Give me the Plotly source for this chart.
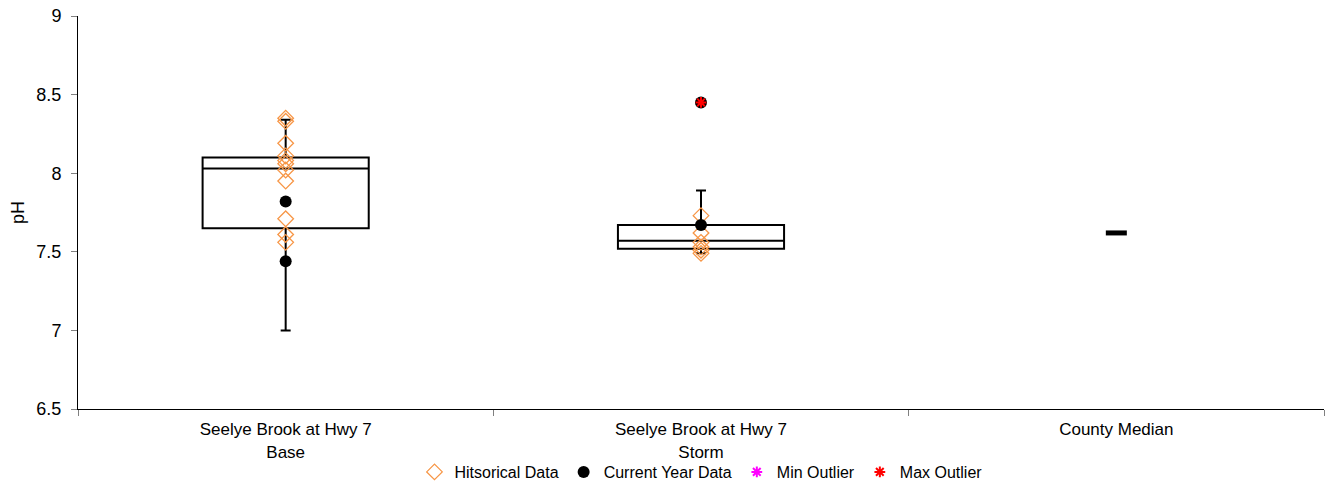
import plotly.graph_objects as go

categories = ["Seelye Brook at Hwy 7<br>Base", "Seelye Brook at Hwy 7<br>Storm", "County Median"]

# box statistics (Base, Storm)
box_cats = categories[:2]
q1 = [7.65, 7.52]
median = [8.03, 7.57]
q3 = [8.10, 7.67]
lower = [7.00, 7.49]
upper = [8.34, 7.89]

hist_base = [8.35, 8.33, 8.19, 8.11, 8.08, 8.06, 8.02, 7.95, 7.71, 7.61, 7.56]
hist_storm = [7.73, 7.62, 7.56, 7.53, 7.51, 7.49]
current_base = [7.82, 7.44]
current_storm = [7.67, 8.45]
max_outlier_storm = [8.45]
county_median = [7.62]

orange = "#F79646"
family = "Liberation Sans, Arial, sans-serif"
font = dict(family=family, size=18, color="#000000")
xtick_font = dict(family=family, size=17, color="#000000")
legend_font = dict(family=family, size=16, color="#000000")

fig = go.Figure()

fig.add_trace(go.Box(
    x=box_cats, q1=q1, median=median, q3=q3,
    lowerfence=lower, upperfence=upper,
    width=0.4, whiskerwidth=0.06,
    fillcolor="white", line=dict(color="black", width=2),
    showlegend=False, hoverinfo="skip", boxpoints=False,
))

fig.add_trace(go.Scatter(
    x=[categories[0]] * len(hist_base) + [categories[1]] * len(hist_storm),
    y=hist_base + hist_storm,
    mode="markers", name="Hitsorical Data",
    marker=dict(symbol="diamond-open", size=12, color=orange, line=dict(color=orange, width=1.3)),
))

fig.add_trace(go.Scatter(
    x=[categories[0]] * len(current_base) + [categories[1]] * len(current_storm),
    y=current_base + current_storm,
    mode="markers", name="Current Year Data",
    marker=dict(symbol="circle", size=12, color="black"),
))

fig.add_trace(go.Scatter(
    x=[None], y=[None], mode="markers", name="Min Outlier",
    marker=dict(symbol="asterisk-open", size=9, color="#FF00FF", line=dict(color="#FF00FF", width=2)),
))

fig.add_trace(go.Scatter(
    x=[categories[1]] * len(max_outlier_storm), y=max_outlier_storm,
    mode="markers", name="Max Outlier",
    marker=dict(symbol="asterisk-open", size=9, color="#FF0000", line=dict(color="#FF0000", width=2)),
))

fig.add_trace(go.Scatter(
    x=[categories[2]], y=county_median, mode="markers", showlegend=False,
    marker=dict(symbol="line-ew", size=15, color="black", line=dict(color="black", width=5)),
))

fig.update_layout(
    width=1328, height=484,
    margin=dict(l=78, r=4, t=16, b=75, autoexpand=False),
    paper_bgcolor="white", plot_bgcolor="white",
    font=font,
    hovermode=False,
    legend=dict(orientation="h", x=0.5, xanchor="center", y=-0.1603, yanchor="middle",
                font=legend_font, itemwidth=30, tracegroupgap=0, bgcolor="rgba(0,0,0,0)"),
    xaxis=dict(
        type="category", categoryorder="array", categoryarray=categories,
        range=[-0.5, 2.5], tickson="boundaries", ticks="outside", ticklen=6,
        tickcolor="#808080", showline=True, linecolor="black", linewidth=1,
        showgrid=False, zeroline=False, tickfont=xtick_font, automargin=False,
        ticklabelstandoff=5,
    ),
    yaxis=dict(
        range=[6.5, 9], dtick=0.5, tick0=6.5, ticks="outside", ticklen=6,
        tickcolor="#808080", showline=True, linecolor="black", linewidth=1,
        showgrid=False, zeroline=False, tickfont=font, automargin=False,
        ticklabelstandoff=6, ticklabeloverflow="allow",
        title=dict(text="pH", font=font, standoff=7),
    ),
)

fig.write_html("out.html", config={"displayModeBar": False},
               post_script="document.body.style.margin='0';")
